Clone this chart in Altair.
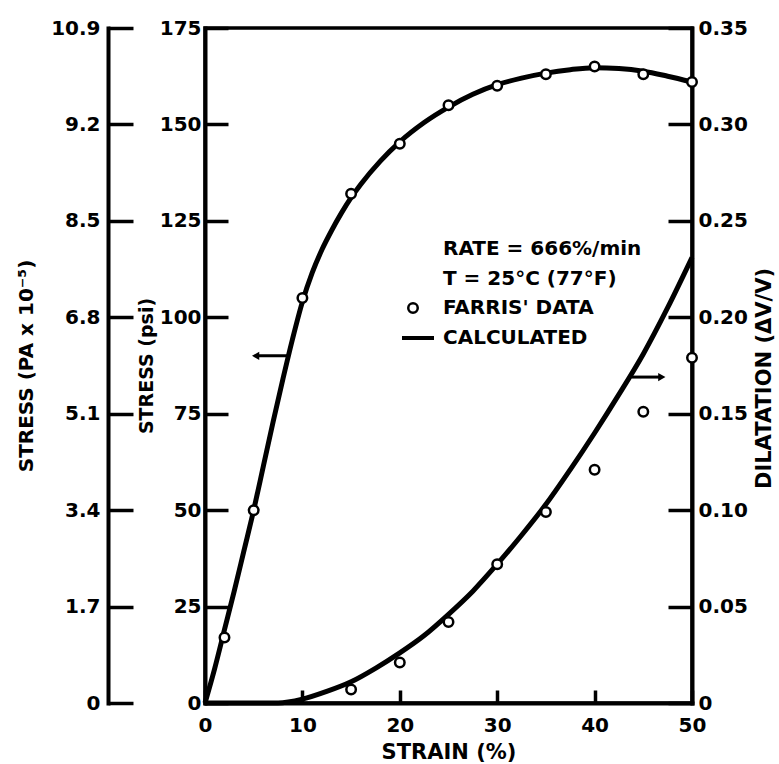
import altair as alt
import pandas as pd

# ---------------- data ----------------
strain_calc_stress = [0, 1, 2, 3, 4, 5, 6, 7, 8, 9, 10, 11, 12, 13, 14, 15, 16, 18, 20,
                      22.5, 25, 27.5, 30, 32.5, 35, 37.5, 40, 42.5, 45, 47.5, 50]
stress_calc = [0, 9, 19, 29, 39.5, 50, 61.5, 73, 84, 94.5, 104, 111.5, 117.5, 122.5, 127, 131,
               134.5, 140.5, 145.5, 150.5, 154.5, 157.8, 160.3, 162, 163.3, 164.2, 164.7,
               164.5, 163.8, 162.5, 161]

strain_farris_stress = [2, 5, 10, 15, 20, 25, 30, 35, 40, 45, 50]
stress_farris = [17, 50, 105, 132, 145, 155, 160, 163, 165, 163, 161]

strain_calc_dil = [0, 7.5, 10, 12.5, 15, 17.5, 20, 22.5, 25, 27.5, 30, 32.5, 35, 37.5,
                   40, 42.5, 45, 47.5, 50]
dil_calc = [0, 0, 0.002, 0.006, 0.011, 0.018, 0.026, 0.035, 0.046, 0.058, 0.072, 0.087,
            0.103, 0.121, 0.140, 0.160, 0.181, 0.205, 0.231]

strain_farris_dil = [15, 20, 25, 30, 35, 40, 45, 50]
dil_farris = [0.007, 0.021, 0.042, 0.072, 0.099, 0.121, 0.151, 0.179]

# arrows (tail strain, head strain, level)
arrow_stress = {"x": 8.7, "x2": 5.2, "y": 90}
arrow_dil = {"x": 43.8, "x2": 46.9, "y": 0.169}

strain_ticks = [0, 10, 20, 30, 40, 50]
psi_ticks = [0, 25, 50, 75, 100, 125, 150, 175]
pa_labels = ["0", "1.7", "3.4", "5.1", "6.8", "8.5", "9.2", "10.9"]
dil_ticks = [0, 0.05, 0.10, 0.15, 0.20, 0.25, 0.30, 0.35]
dil_labels = ["0", "0.05", "0.10", "0.15", "0.20", "0.25", "0.30", "0.35"]

legend_lines = ["RATE = 666%/min", "T = 25°C (77°F)", "FARRIS' DATA", "CALCULATED"]

# ---------------- layout ----------------
W, H = 487, 675
FONT = "DejaVu Sans"

df_sc = pd.DataFrame({"strain": strain_calc_stress, "psi": stress_calc})
df_sf = pd.DataFrame({"strain": strain_farris_stress, "psi": stress_farris})
df_dc = pd.DataFrame({"strain": strain_calc_dil, "dil": dil_calc})
df_df = pd.DataFrame({"strain": strain_farris_dil, "dil": dil_farris})
df_as = pd.DataFrame([arrow_stress])
df_ad = pd.DataFrame([arrow_dil])

xs = alt.Scale(domain=[0, 50], nice=False, zero=False)
ps = alt.Scale(domain=[0, 175], nice=False, zero=False)
ds = alt.Scale(domain=[0, 0.35], nice=False, zero=False)

pa_expr = "[" + ",".join("'%s'" % s for s in pa_labels) + "][round(datum.value/25)]"
dil_expr = "[" + ",".join("'%s'" % s for s in dil_labels) + "][round(datum.value/0.05)]"

lab = dict(labelFont=FONT, labelFontWeight="bold", labelFontSize=20, labelColor="black",
           titleFont=FONT, titleFontWeight="bold", titleColor="black", grid=False,
           labelFlush=False, labelOverlap=False)

# main stress line with main left axis + bottom axis
stress_line = alt.Chart(df_sc).mark_line(color="black", strokeWidth=5, interpolate="monotone").encode(
    x=alt.X("strain:Q", scale=xs, axis=alt.Axis(orient="bottom", values=strain_ticks, format="d",
            ticks=False, domain=True, labelPadding=12, title="STRAIN (%)", titleFontSize=21,
            titlePadding=6, **lab)),
    y=alt.Y("psi:Q", scale=ps, axis=alt.Axis(orient="left", values=psi_ticks, ticks=False,
            domain=True, labelPadding=4, title="STRESS (psi)", titleFontSize=19, titlePadding=3, **lab)),
)

# inward ticks for main left axis and bottom axis
stress_ticks = alt.Chart(df_sc).mark_line(opacity=0).encode(
    x=alt.X("strain:Q", scale=xs, axis=alt.Axis(orient="top", offset=-H, values=strain_ticks,
            ticks=True, tickSize=13, labels=False, domain=False, title=None, grid=False)),
    y=alt.Y("psi:Q", scale=ps, axis=alt.Axis(orient="right", offset=-W, values=psi_ticks,
            ticks=True, tickSize=23, labels=False, domain=False, title=None, grid=False)),
)

# outer Pa axis
pa_axis = alt.Chart(df_sc).mark_line(opacity=0).encode(
    x=alt.X("strain:Q", scale=xs, axis=None),
    y=alt.Y("psi:Q", scale=ps, axis=alt.Axis(orient="left", offset=97, values=psi_ticks,
            labelExpr=pa_expr, ticks=False, domain=True, labelPadding=8,
            title="STRESS (PA x 10⁻⁵)", titleFontSize=20, titlePadding=14, **lab)),
)
pa_ticks = alt.Chart(df_sc).mark_line(opacity=0).encode(
    x=alt.X("strain:Q", scale=xs, axis=None),
    y=alt.Y("psi:Q", scale=ps, axis=alt.Axis(orient="right", offset=-(W + 97), values=psi_ticks,
            ticks=True, tickSize=25, labels=False, domain=False, title=None, grid=False)),
)

stress_pts = alt.Chart(df_sf).mark_point(shape="circle", size=90, filled=False, color="black",
                                         fill="white", fillOpacity=1, strokeWidth=2.5, opacity=1).encode(
    x=alt.X("strain:Q", scale=xs, axis=None),
    y=alt.Y("psi:Q", scale=ps, axis=None),
)

# dilatation
dil_line = alt.Chart(df_dc).mark_line(color="black", strokeWidth=5, interpolate="monotone").encode(
    x=alt.X("strain:Q", scale=xs, axis=None),
    y=alt.Y("dil:Q", scale=ds, axis=alt.Axis(orient="right", values=dil_ticks, labelExpr=dil_expr,
            ticks=False, domain=True, labelPadding=6, title="DILATATION (ΔV/V)", titleAngle=270,
            titleBaseline="top", titleFontSize=21, titlePadding=6, titleY=350, **lab)),
)
dil_ticks_layer = alt.Chart(df_dc).mark_line(opacity=0).encode(
    x=alt.X("strain:Q", scale=xs, axis=None),
    y=alt.Y("dil:Q", scale=ds, axis=alt.Axis(orient="left", offset=-W, values=dil_ticks,
            ticks=True, tickSize=24, labels=False, domain=False, title=None, grid=False)),
)
dil_pts = alt.Chart(df_df).mark_point(shape="circle", size=90, filled=False, color="black",
                                      fill="white", fillOpacity=1, strokeWidth=2.5, opacity=1).encode(
    x=alt.X("strain:Q", scale=xs, axis=None),
    y=alt.Y("dil:Q", scale=ds, axis=None),
)

# arrows
arr_s_rule = alt.Chart(df_as).mark_rule(color="black", strokeWidth=3).encode(
    x=alt.X("x:Q", scale=xs, axis=None), x2="x2:Q",
    y=alt.Y("y:Q", scale=ps, axis=None))
arr_s_head = alt.Chart(df_as).mark_point(shape="triangle-left", filled=True, color="black",
                                         size=70, opacity=1).encode(
    x=alt.X("x2:Q", scale=xs, axis=None), y=alt.Y("y:Q", scale=ps, axis=None))
arr_d_rule = alt.Chart(df_ad).mark_rule(color="black", strokeWidth=3).encode(
    x=alt.X("x:Q", scale=xs, axis=None), x2="x2:Q",
    y=alt.Y("y:Q", scale=ds, axis=None))
arr_d_head = alt.Chart(df_ad).mark_point(shape="triangle-right", filled=True, color="black",
                                         size=70, opacity=1).encode(
    x=alt.X("x2:Q", scale=xs, axis=None), y=alt.Y("y:Q", scale=ds, axis=None))

# legend block
one = pd.DataFrame({"k": [0]})
legend_layers = []
for i, txt in enumerate(legend_lines):
    legend_layers.append(
        alt.Chart(one).mark_text(font=FONT, fontWeight="bold", fontSize=20, align="left",
                                 baseline="middle", color="black").encode(
            x=alt.value(238), y=alt.value(221 + 29.7 * i), text=alt.value(txt)))
legend_layers.append(
    alt.Chart(one).mark_point(shape="circle", size=90, filled=False, color="black", fill="white",
                              fillOpacity=1, strokeWidth=2.5, opacity=1).encode(
        x=alt.value(208), y=alt.value(280)))
legend_layers.append(
    alt.Chart(one).mark_rule(color="black", strokeWidth=4).encode(
        x=alt.value(197), x2=alt.value(229), y=alt.value(310)))

chart = alt.layer(
    pa_axis, pa_ticks, stress_ticks, dil_ticks_layer,
    stress_line, dil_line, arr_s_rule, arr_s_head, arr_d_rule, arr_d_head,
    stress_pts, dil_pts, *legend_layers,
).resolve_scale(y="independent").resolve_axis(y="independent", x="independent").properties(
    width=W, height=H,
    autosize=alt.AutoSizeParams(type="none"),
    padding={"left": 205, "top": 28, "right": 87, "bottom": 61},
    background="white",
).configure_view(stroke="black", strokeWidth=3.5).configure_axis(
    domainColor="black", domainWidth=4, tickColor="black", tickWidth=3.5, domainCap="square"
)

chart.save("out.html", embed_options={"renderer": "svg", "actions": False})
